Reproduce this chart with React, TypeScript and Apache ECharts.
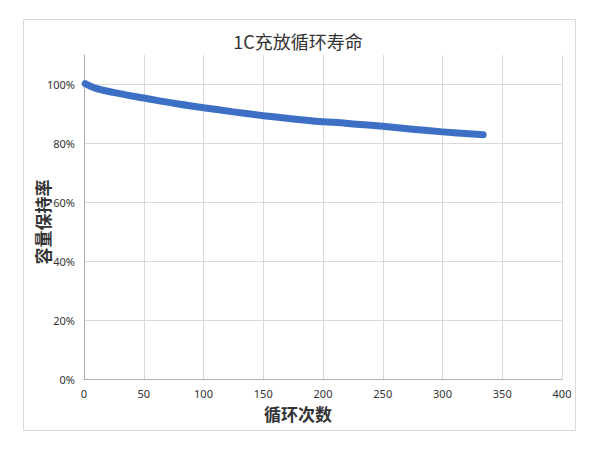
import React, { useEffect, useRef } from "react";
import * as echarts from "echarts";

const titleText = "1C充放循环寿命";
const xAxisName = "循环次数";
const yAxisName = "容量保持率";
const cycles = [1, 5, 10, 20, 30, 40, 50, 75, 100, 125, 150, 175, 200, 215, 225, 250, 275, 300, 325, 334];
const retention = [100.3, 99.5, 98.7, 97.7, 96.9, 96.1, 95.4, 93.6, 92.1, 90.7, 89.4, 88.3, 87.3, 87.0, 86.6, 85.8, 84.8, 83.9, 83.2, 82.9];

export default function App() {
  const ref = useRef<HTMLDivElement>(null);
  useEffect(() => {
    document.body.style.margin = "0";
    const chart = echarts.init(ref.current!, null, { renderer: "svg" });
    const font = "'Noto Sans', 'Noto Sans CJK SC', sans-serif";
    chart.setOption({
      animation: false,
      backgroundColor: "#ffffff",
      textStyle: { fontFamily: font },
      grid: { left: 84, right: 38, top: 55, bottom: 71 },
      xAxis: {
        type: "value",
        min: 0,
        max: 400,
        interval: 50,
        axisLine: { show: true, lineStyle: { color: "#b0b0b0", width: 1 } },
        axisTick: { show: false },
        axisLabel: { color: "#333333", fontSize: 11, margin: 9, fontFamily: font },
        splitLine: { show: true, lineStyle: { color: "#d9d9d9", width: 1 } },
      },
      yAxis: {
        type: "value",
        min: 0,
        max: 110,
        interval: 20,
        axisLine: { show: true, lineStyle: { color: "#b0b0b0", width: 1 } },
        axisTick: { show: false },
        axisLabel: {
          color: "#333333",
          fontSize: 11,
          margin: 9,
          fontFamily: font,
          showMaxLabel: false,
          formatter: (v: number) => (v > 100 ? "" : v + "%"),
        },
        splitLine: { show: true, showMaxLine: false, lineStyle: { color: "#d9d9d9", width: 1 } },
      },
      graphic: [
        {
          type: "rect",
          shape: { x: 23.5, y: 19.5, width: 552, height: 411 },
          style: { fill: "none", stroke: "#d9d9d9", lineWidth: 1 },
          silent: true,
          z: -1,
        },
        {
          type: "text",
          x: 298,
          y: 41,
          style: {
            text: titleText,
            fill: "#333333",
            font: "18px 'Noto Sans CJK SC', sans-serif",
            textAlign: "center",
            textVerticalAlign: "middle",
          },
        },
        {
          type: "text",
          x: 298,
          y: 413,
          style: {
            text: xAxisName,
            fill: "#333333",
            font: "bold 17px 'Noto Sans CJK SC', sans-serif",
            textAlign: "center",
            textVerticalAlign: "middle",
          },
        },
        {
          type: "text",
          x: 42,
          y: 222,
          rotation: Math.PI / 2,
          style: {
            text: yAxisName,
            fill: "#333333",
            font: "bold 17px 'Noto Sans CJK SC', sans-serif",
            textAlign: "center",
            textVerticalAlign: "middle",
          },
        },
      ],
      series: [
        {
          type: "line",
          data: cycles.map((c, i) => [c, retention[i]]),
          smooth: 0.3,
          showSymbol: false,
          lineStyle: { color: "#3d6fc4", width: 7, cap: "round", join: "round" },
          itemStyle: { color: "#3d6fc4" },
        },
      ],
    });
    return () => chart.dispose();
  }, []);
  return <div ref={ref} style={{ width: 600, height: 450 }} />;
}
